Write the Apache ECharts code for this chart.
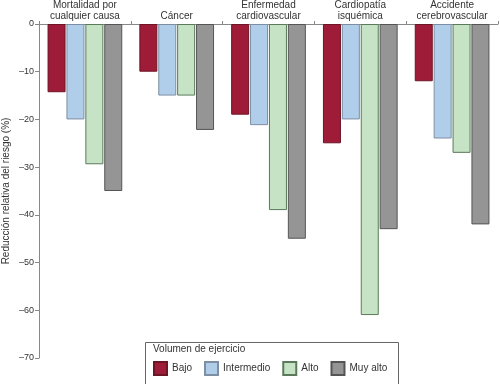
<!DOCTYPE html>
<html><head><meta charset="utf-8">
<script src="https://cdn.jsdelivr.net/npm/echarts@6/dist/echarts.min.js"></script>
<style>html,body{margin:0;padding:0;background:#fff}#c{width:500px;height:384px}</style>
</head><body><div id="c"></div>
<script>
const categories = ['Mortalidad por\ncualquier causa', 'Cáncer', 'Enfermedad\ncardiovascular', 'Cardiopatía\nisquémica', 'Accidente\ncerebrovascular'];
const seriesNames = ['Bajo', 'Intermedio', 'Alto', 'Muy alto'];
const bajo = [-14.3, -10, -19, -25, -12];
const intermedio = [-20, -15, -21.2, -20, -24];
const alto = [-29.4, -15, -39, -61, -27];
const muyAlto = [-35, -22.2, -45, -43, -42];
const yTicks = [0, -10, -20, -30, -40, -50, -60, -70];
const legendTitle = 'Volumen de ejercicio';
const yName = 'Reducción relativa del riesgo (%)';

const colors = ['#9e1c38', '#b0cdea', '#c6e4c5', '#959595'];
const borders = ['#6e1427', '#7e8fa3', '#5a7a5a', '#555555'];
const values = [bajo, intermedio, alto, muyAlto];
const font = 'Liberation Sans, Arial, sans-serif';

const chart = echarts.init(document.getElementById('c'));
chart.setOption({
  animation: false,
  textStyle: { fontFamily: font },
  grid: { left: 39, right: 2, top: 24, bottom: 26, containLabel: false, outerBoundsMode: 'none' },
  xAxis: {
    type: 'category', position: 'top', data: categories,
    axisLine: { lineStyle: { color: '#888', width: 1 } },
    axisTick: { show: true, length: 3, lineStyle: { color: '#888' } },
    axisLabel: { color: '#333', fontSize: 10, lineHeight: 11, margin: 2, interval: 0 }
  },
  yAxis: {
    type: 'value', min: -70, max: 0, interval: 10,
    name: yName, nameLocation: 'middle', nameGap: 28, nameMoveOverlap: false,
    nameTextStyle: { color: '#333', fontSize: 10 },
    axisLine: { show: true, lineStyle: { color: '#888' } },
    axisTick: { show: true, length: 4, lineStyle: { color: '#888' } },
    splitLine: { show: false },
    axisLabel: { color: '#333', fontSize: 9, margin: 5,
      formatter: v => (yTicks.includes(v) ? String(v).replace('-', '–') : '') }
  },
  legend: {
    data: seriesNames, left: 153, top: 361, padding: 0, itemWidth: 13, itemHeight: 13, itemGap: 12,
    icon: 'rect',
    textStyle: { color: '#333', fontSize: 10 }
  },
  graphic: [
    { type: 'rect', left: 143, top: 340, shape: { width: 253, height: 43 },
      style: { fill: 'none', stroke: '#666', lineWidth: 1 }, silent: true, z: -1 },
    { type: 'text', left: 153, top: 344, style: { text: legendTitle, fill: '#333', font: '10px ' + font } }
  ],
  series: seriesNames.map((n, i) => ({
    name: n, type: 'bar', data: values[i], barWidth: 18, barGap: '5%',
    itemStyle: { color: colors[i], borderColor: borders[i], borderWidth: 1 }
  }))
});
</script></body></html>
